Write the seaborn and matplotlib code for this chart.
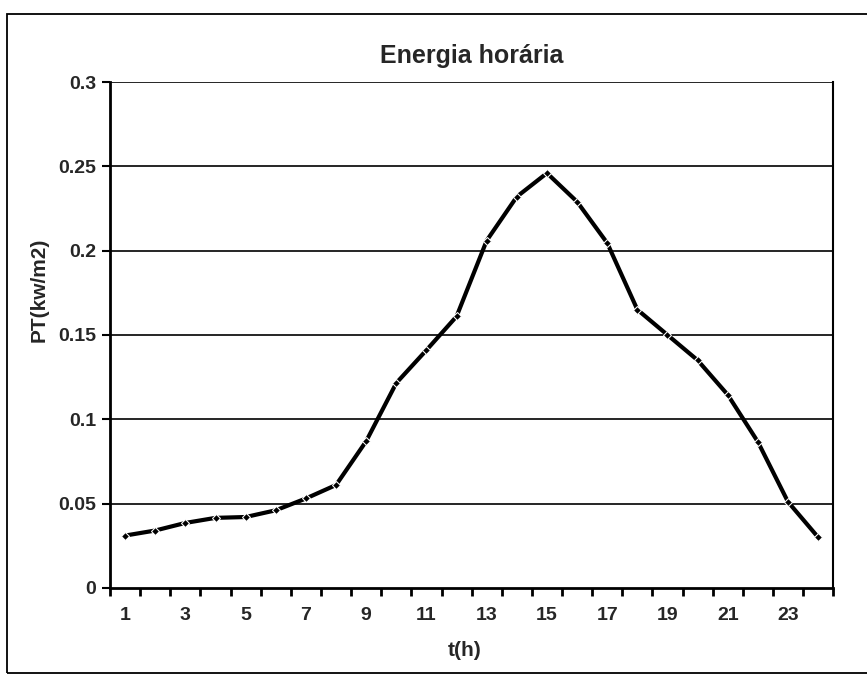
import pandas as pd
import matplotlib.pyplot as plt
import seaborn as sns
from matplotlib.patches import Rectangle

# hourly values
hours = list(range(1, 25))
pt_values = [0.031, 0.034, 0.0385, 0.0415, 0.042, 0.046, 0.053, 0.061,
             0.087, 0.1215, 0.141, 0.161, 0.206, 0.232, 0.246, 0.229,
             0.2045, 0.165, 0.150, 0.135, 0.1145, 0.0866, 0.051, 0.030]
y_ticks = [0, 0.05, 0.1, 0.15, 0.2, 0.25, 0.3]
y_tick_labels = ['0', '0.05', '0.1', '0.15', '0.2', '0.25', '0.3']
x_tick_labels = [str(h) for h in range(1, 24, 2)]

df = pd.DataFrame({'t': hours, 'PT': pt_values})

sns.set_theme(style='white')
plt.rcParams['font.family'] = ['Liberation Sans Narrow', 'Liberation Sans', 'DejaVu Sans']

fig = plt.figure(figsize=(8.67, 6.78), dpi=100)
ax = fig.add_axes([0.127, 0.133, 0.834, 0.746])

# outer chart border
fig.patches.append(Rectangle((0.008, 0.008), 1.2, 0.972, transform=fig.transFigure,
                             fill=False, edgecolor='black', linewidth=1.3))

for y in y_ticks[1:]:
    ax.axhline(y, color='black', linewidth=1.2, zorder=1)

sns.lineplot(data=df, x='t', y='PT', ax=ax, color='black', linewidth=3,
             marker='D', markersize=4, zorder=3)

ax.set_xlim(0.5, 24.5)
ax.set_ylim(0, 0.3)
ax.set_yticks(y_ticks)
ax.set_yticklabels(y_tick_labels, fontsize=14, fontweight='bold')
ax.set_xticks(range(1, 24, 2))
ax.set_xticklabels(x_tick_labels, fontsize=14, fontweight='bold')
ax.set_xticks([h + 0.5 for h in range(0, 25)], minor=True)
ax.tick_params(axis='x', which='major', length=0, pad=14)
ax.tick_params(axis='x', which='minor', length=6, width=2, direction='out', color='black', bottom=True)
ax.tick_params(axis='y', length=6, width=1.5, direction='out', color='black', left=True, pad=4)

for side in ['left', 'bottom', 'right']:
    ax.spines[side].set_color('black')
ax.spines['left'].set_linewidth(2)
ax.spines['bottom'].set_linewidth(2)
ax.spines['right'].set_linewidth(1.5)
ax.spines['top'].set_visible(False)

ax.set_title('Energia horária', fontsize=18, fontweight='bold', pad=14)
ax.set_xlabel('t(h)', fontsize=15, fontweight='bold')
ax.set_ylabel('PT(kw/m2)', fontsize=15, fontweight='bold')
ax.xaxis.set_label_coords(0.49, -0.105)
ax.yaxis.set_label_coords(-0.085, 0.59)

fig.savefig('out.png', dpi=100)
